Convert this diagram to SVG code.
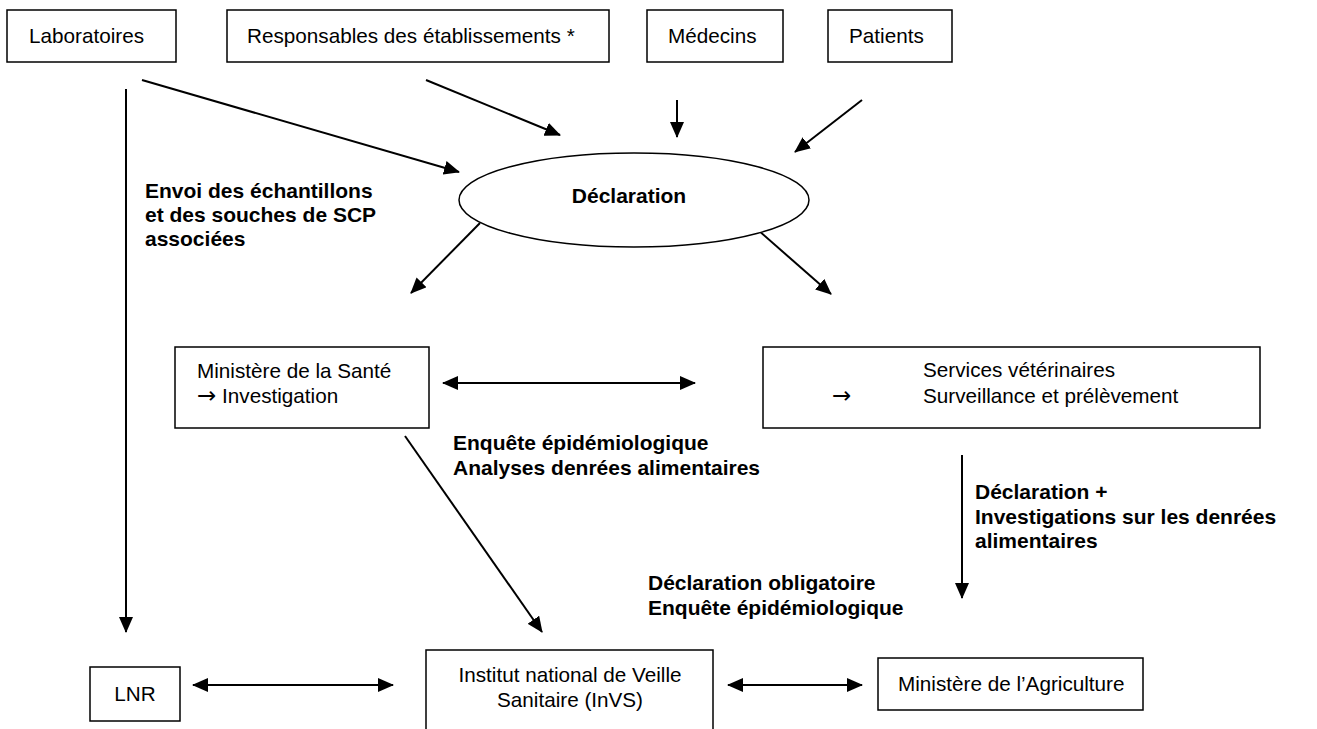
<svg xmlns="http://www.w3.org/2000/svg" width="1317" height="729" viewBox="0 0 1317 729">
<style>
.box{fill:#fff;stroke:#000;stroke-width:1.5}
.t{font-family:"Liberation Sans",Arial,sans-serif;font-size:20.7px;fill:#000}
.b{font-family:"Liberation Sans",Arial,sans-serif;font-size:21px;font-weight:bold;fill:#000}
.ar{font-family:"DejaVu Sans",sans-serif;font-size:23px}
.c{stroke:#000;stroke-width:2;fill:none}
</style>
<defs>
<marker id="ah" markerUnits="userSpaceOnUse" markerWidth="16" markerHeight="14" refX="15" refY="7" orient="auto-start-reverse">
<path d="M0,0 L16,7 L0,14 Z" fill="#000"/>
</marker>
</defs>
<rect width="1317" height="729" fill="#fff"/>
<g id="connectors">
<line class="c" x1="126" y1="89" x2="126" y2="632" marker-end="url(#ah)"/>
<line class="c" x1="142" y1="80" x2="459" y2="172" marker-end="url(#ah)"/>
<line class="c" x1="426" y1="80" x2="560" y2="135" marker-end="url(#ah)"/>
<line class="c" x1="677" y1="100" x2="677" y2="137" marker-end="url(#ah)"/>
<line class="c" x1="862" y1="100" x2="795" y2="152" marker-end="url(#ah)"/>
<line class="c" x1="480" y1="223" x2="411" y2="293" marker-end="url(#ah)"/>
<line class="c" x1="750" y1="223" x2="831" y2="294" marker-end="url(#ah)"/>
<line class="c" x1="443" y1="383" x2="695" y2="383" marker-start="url(#ah)" marker-end="url(#ah)"/>
<line class="c" x1="405" y1="436" x2="542" y2="632" marker-end="url(#ah)"/>
<line class="c" x1="962" y1="455" x2="962" y2="598" marker-end="url(#ah)"/>
<line class="c" x1="193" y1="685" x2="393" y2="685" marker-start="url(#ah)" marker-end="url(#ah)"/>
<line class="c" x1="728" y1="685" x2="862" y2="685" marker-start="url(#ah)" marker-end="url(#ah)"/>
</g>
<g id="laboratoires"><rect class="box" x="7" y="10" width="169" height="52"/><text class="t" x="29" y="43">Laboratoires</text></g>
<g id="responsables"><rect class="box" x="227" y="10" width="382" height="52"/><text class="t" x="247" y="43">Responsables des établissements *</text></g>
<g id="medecins"><rect class="box" x="647" y="10" width="136" height="52"/><text class="t" x="668" y="43">Médecins</text></g>
<g id="patients"><rect class="box" x="828" y="10" width="124" height="52"/><text class="t" x="849" y="43">Patients</text></g>
<g id="declaration"><ellipse cx="634" cy="200" rx="175" ry="47" fill="#fff" stroke="#000" stroke-width="1.5"/><text class="b" x="629" y="203" text-anchor="middle" font-size="23.5">Déclaration</text></g>
<g id="label-envoi"><text class="b" x="145" y="198">Envoi des échantillons</text><text class="b" x="145" y="222">et des souches de SCP</text><text class="b" x="145" y="246">associées</text></g>
<g id="sante"><rect class="box" x="175" y="347" width="254" height="81"/><text class="t" x="197" y="378">Ministère de la Santé</text><text class="t" x="197" y="403"><tspan class="ar">→</tspan> Investigation</text></g>
<g id="services"><rect class="box" x="763" y="347" width="497" height="81"/><text class="t" x="923" y="377">Services vétérinaires</text><text class="ar" x="832" y="403">→</text><text class="t" x="923" y="403">Surveillance et prélèvement</text></g>
<g id="label-enquete"><text class="b" x="453" y="450">Enquête épidémiologique</text><text class="b" x="453" y="475">Analyses denrées alimentaires</text></g>
<g id="label-decl-plus"><text class="b" x="975" y="499">Déclaration +</text><text class="b" x="975" y="524">Investigations sur les denrées</text><text class="b" x="975" y="548">alimentaires</text></g>
<g id="label-decl-oblig"><text class="b" x="648" y="590">Déclaration obligatoire</text><text class="b" x="648" y="615">Enquête épidémiologique</text></g>
<g id="lnr"><rect class="box" x="90" y="667" width="90" height="54"/><text class="t" x="135" y="701" text-anchor="middle">LNR</text></g>
<g id="invs"><rect class="box" x="426" y="650" width="287" height="110"/><text class="t" x="570" y="682" text-anchor="middle">Institut national de Veille</text><text class="t" x="570" y="707" text-anchor="middle">Sanitaire (InVS)</text></g>
<g id="agriculture"><rect class="box" x="878" y="658" width="265" height="52"/><text class="t" x="898" y="691">Ministère de l’Agriculture</text></g>
</svg>
